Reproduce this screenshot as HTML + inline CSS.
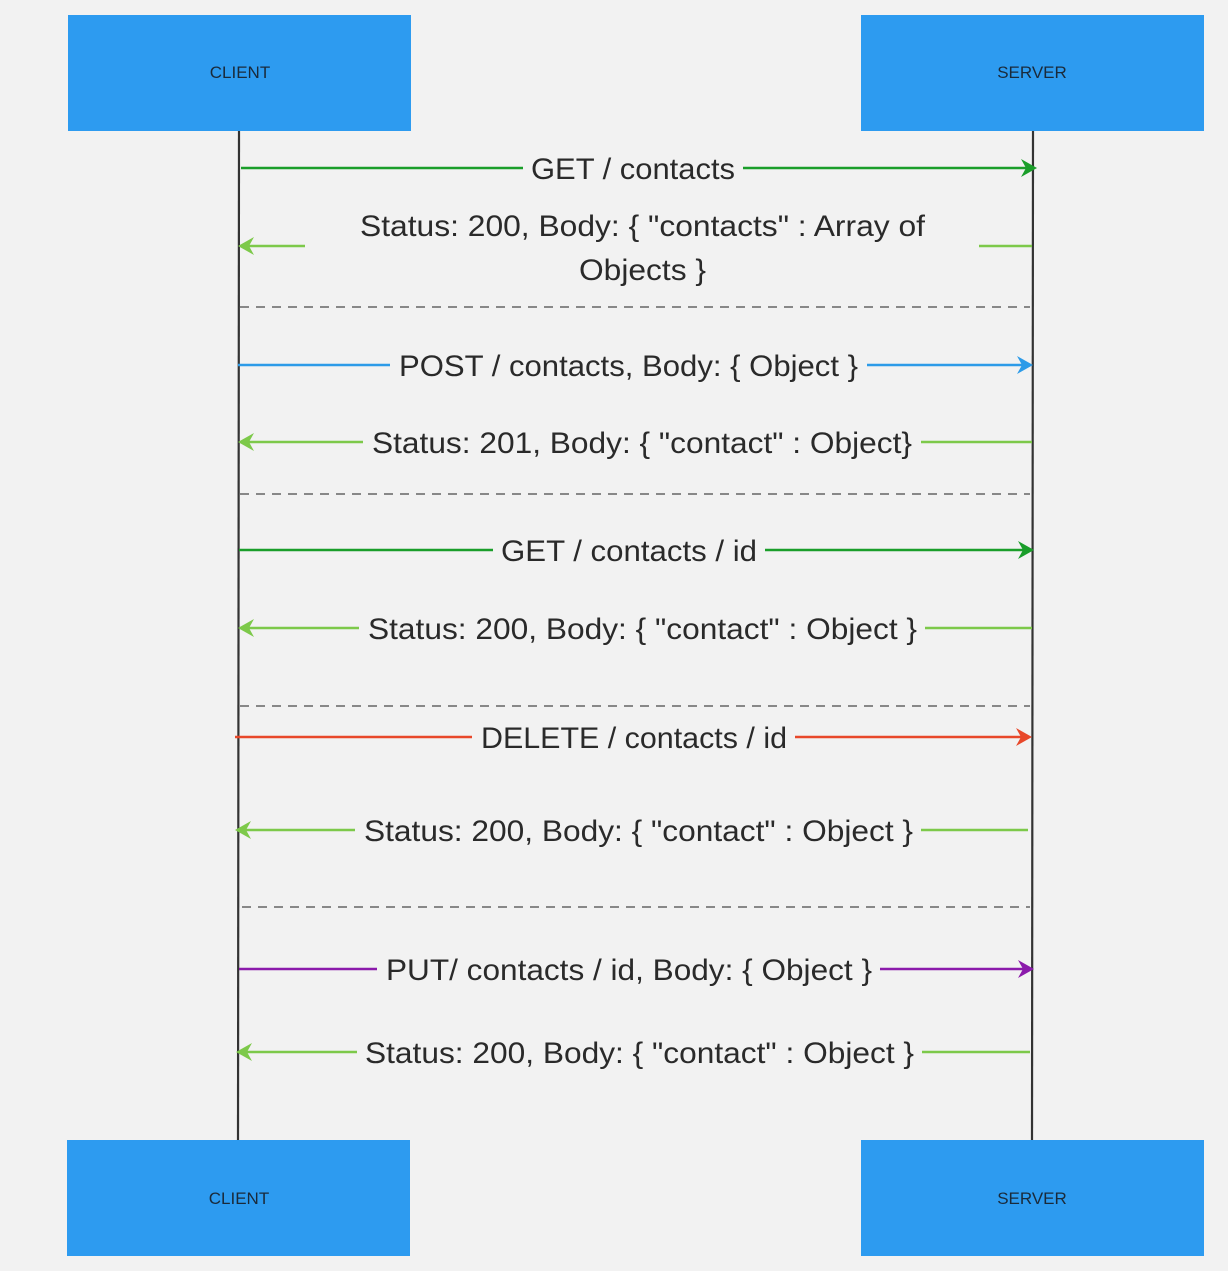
<!DOCTYPE html>
<html><head><style>html,body{margin:0;padding:0;background:#f2f2f2;overflow:hidden}</style></head><body>
<svg width="1228" height="1271" viewBox="0 0 1228 1271" xmlns="http://www.w3.org/2000/svg" font-family="Liberation Sans, sans-serif" style="display:block">
<rect width="1228" height="1271" fill="#f2f2f2"/>
<rect x="68" y="15" width="343" height="116" fill="#2d9bf0"/>
<rect x="861" y="15" width="343" height="116" fill="#2d9bf0"/>
<rect x="67" y="1140" width="343" height="116" fill="#2d9bf0"/>
<rect x="861" y="1140" width="343" height="116" fill="#2d9bf0"/>
<g font-size="17" fill="#1a2a3a" text-anchor="middle">
<text x="240" y="78">CLIENT</text><text x="1032" y="78">SERVER</text>
<text x="239" y="1204">CLIENT</text><text x="1032" y="1204">SERVER</text>
</g>
<line x1="239" y1="131" x2="238" y2="1140" stroke="#333" stroke-width="2.2"/>
<line x1="1033" y1="131" x2="1032" y2="1140" stroke="#333" stroke-width="2.2"/>
<g stroke="#888" stroke-width="2" stroke-dasharray="9,7">
<line x1="240" y1="307" x2="1030" y2="307"/>
<line x1="240" y1="494" x2="1030" y2="494"/>
<line x1="240" y1="706" x2="1030" y2="706"/>
<line x1="242" y1="907" x2="1030" y2="907"/>
</g>
<g stroke-width="2.5" fill="none">
<line x1="241" y1="168" x2="523" y2="168" stroke="#1a9e2a"/>
<line x1="743" y1="168" x2="1030" y2="168" stroke="#1a9e2a"/>
<line x1="305" y1="246" x2="244" y2="246" stroke="#7dc94a"/>
<line x1="979" y1="246" x2="1032" y2="246" stroke="#7dc94a"/>
<line x1="238" y1="365" x2="390" y2="365" stroke="#2d9be8"/>
<line x1="867" y1="365" x2="1026" y2="365" stroke="#2d9be8"/>
<line x1="363" y1="442" x2="244" y2="442" stroke="#7dc94a"/>
<line x1="921" y1="442" x2="1032" y2="442" stroke="#7dc94a"/>
<line x1="239" y1="550" x2="493" y2="550" stroke="#1a9e2a"/>
<line x1="765" y1="550" x2="1027" y2="550" stroke="#1a9e2a"/>
<line x1="359" y1="628" x2="244" y2="628" stroke="#7dc94a"/>
<line x1="925" y1="628" x2="1032" y2="628" stroke="#7dc94a"/>
<line x1="235" y1="737" x2="472" y2="737" stroke="#e8482a"/>
<line x1="795" y1="737" x2="1025" y2="737" stroke="#e8482a"/>
<line x1="355" y1="830" x2="241" y2="830" stroke="#7dc94a"/>
<line x1="921" y1="830" x2="1028" y2="830" stroke="#7dc94a"/>
<line x1="239" y1="969" x2="377" y2="969" stroke="#8b1aab"/>
<line x1="880" y1="969" x2="1027" y2="969" stroke="#8b1aab"/>
<line x1="357" y1="1052" x2="242" y2="1052" stroke="#7dc94a"/>
<line x1="922" y1="1052" x2="1030" y2="1052" stroke="#7dc94a"/>
</g>
<!-- arrowheads: right-pointing tip at (x,y) -->
<g>
<path d="M1037,168 l-16,-9 l5,9 l-5,9 z" fill="#1a9e2a"/>
<path d="M238,246 l16,-9 l-5,9 l5,9 z" fill="#7dc94a"/>
<path d="M1033,365 l-16,-9 l5,9 l-5,9 z" fill="#2d9be8"/>
<path d="M238,442 l16,-9 l-5,9 l5,9 z" fill="#7dc94a"/>
<path d="M1034,550 l-16,-9 l5,9 l-5,9 z" fill="#1a9e2a"/>
<path d="M238,628 l16,-9 l-5,9 l5,9 z" fill="#7dc94a"/>
<path d="M1032,737 l-16,-9 l5,9 l-5,9 z" fill="#e8482a"/>
<path d="M235,830 l16,-9 l-5,9 l5,9 z" fill="#7dc94a"/>
<path d="M1034,969 l-16,-9 l5,9 l-5,9 z" fill="#8b1aab"/>
<path d="M236,1052 l16,-9 l-5,9 l5,9 z" fill="#7dc94a"/>
</g>
<g font-size="30" fill="#2a2a2a">
<text x="531" y="179" textLength="204" lengthAdjust="spacingAndGlyphs">GET / contacts</text>
<text x="360" y="236" textLength="565" lengthAdjust="spacingAndGlyphs">Status: 200, Body: { "contacts" : Array of</text>
<text x="579" y="280" textLength="127" lengthAdjust="spacingAndGlyphs">Objects }</text>
<text x="399" y="376" textLength="459" lengthAdjust="spacingAndGlyphs">POST / contacts, Body: { Object }</text>
<text x="372" y="453" textLength="540" lengthAdjust="spacingAndGlyphs">Status: 201, Body: { "contact" : Object}</text>
<text x="501" y="561" textLength="256" lengthAdjust="spacingAndGlyphs">GET / contacts / id</text>
<text x="368" y="639" textLength="549" lengthAdjust="spacingAndGlyphs">Status: 200, Body: { "contact" : Object }</text>
<text x="481" y="748" textLength="306" lengthAdjust="spacingAndGlyphs">DELETE / contacts / id</text>
<text x="364" y="841" textLength="549" lengthAdjust="spacingAndGlyphs">Status: 200, Body: { "contact" : Object }</text>
<text x="386" y="980" textLength="486" lengthAdjust="spacingAndGlyphs">PUT/ contacts / id, Body: { Object }</text>
<text x="365" y="1063" textLength="549" lengthAdjust="spacingAndGlyphs">Status: 200, Body: { "contact" : Object }</text>
</g>
</svg>
</body></html>
